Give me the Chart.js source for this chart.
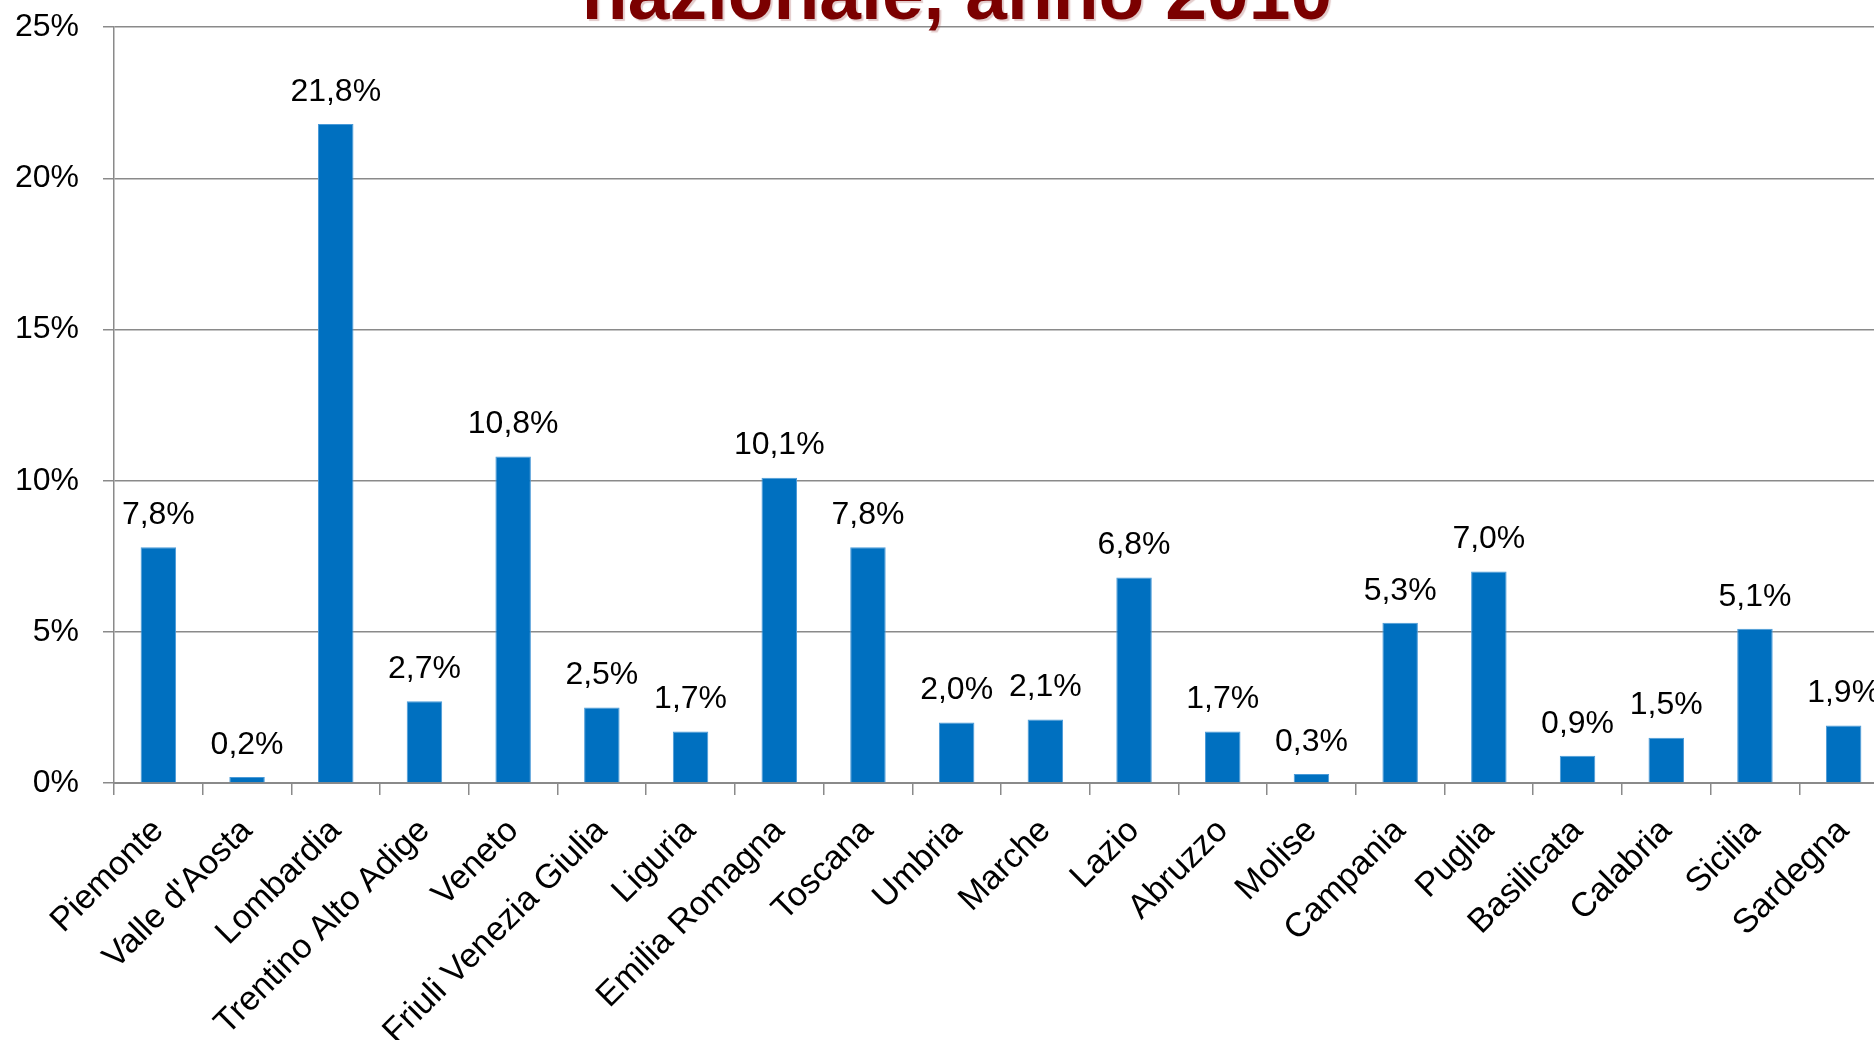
<!DOCTYPE html>
<html>
<head>
<meta charset="utf-8">
<script src="https://cdn.jsdelivr.net/npm/chart.js@4/dist/chart.umd.min.js"></script>
<style>
  html, body { margin: 0; padding: 0; background: #fff; overflow: hidden; width: 1874px; height: 1040px; }
  #wrap { position: relative; width: 1874px; height: 1040px; overflow: hidden; }
  #chart { position: absolute; left: 0; top: -16px; }
  .title {
    position: absolute; left: 0; width: 1914px; text-align: center;
    top: -50px; font: bold 75px "Liberation Sans", Arial, sans-serif;
    color: #7b0000; text-shadow: 2px 2px 1px rgba(160, 80, 80, 0.3);
    white-space: nowrap; z-index: 2;
  }
</style>
</head>
<body>
<div id="wrap">
  <div class="title">nazionale, anno 2010</div>
  <canvas id="chart" width="1900" height="1056"></canvas>
</div>
<script>
/* regional share of the national total, 2010 */

const REGIONS = [
  'Piemonte', "Valle d'Aosta", 'Lombardia', 'Trentino Alto Adige', 'Veneto',
  'Friuli Venezia Giulia', 'Liguria', 'Emilia Romagna', 'Toscana', 'Umbria',
  'Marche', 'Lazio', 'Abruzzo', 'Molise', 'Campania',
  'Puglia', 'Basilicata', 'Calabria', 'Sicilia', 'Sardegna',
];

const SHARES = [
  7.8, 0.2, 21.8, 2.7, 10.8,
  2.5, 1.7, 10.1, 7.8, 2.0,
  2.1, 6.8, 1.7, 0.3, 5.3,
  7.0, 0.9, 1.5, 5.1, 1.9,
];

const Y_TICKS = [0, 5, 10, 15, 20, 25];

const FONT = '"Liberation Sans", Arial, sans-serif';
const GREY = '#8a8a8a';

const pct = v => v.toFixed(1).replace('.', ',') + '%';

// value labels above each bar
const valueLabels = {
  id: 'valueLabels',
  afterDatasetsDraw(chart) {
    const { ctx } = chart;
    const meta = chart.getDatasetMeta(0);
    ctx.save();
    ctx.font = '32px ' + FONT;
    ctx.fillStyle = '#000';
    ctx.textAlign = 'center';
    ctx.textBaseline = 'bottom';
    meta.data.forEach((bar, i) => {
      ctx.fillText(pct(SHARES[i]), bar.x, bar.y - 16);
    });
    ctx.restore();
  },
};

new Chart(document.getElementById('chart'), {
  type: 'bar',
  data: {
    labels: REGIONS,
    datasets: [{
      data: SHARES,
      backgroundColor: '#0070c0',
      borderColor: '#4a9ad8',
      borderWidth: { top: 1, left: 1, right: 1, bottom: 0 },
      barPercentage: 0.4,
      categoryPercentage: 1,
    }],
  },
  options: {
    responsive: false,
    animation: false,
    layout: { padding: { top: 7, right: 12, left: 0, bottom: 0 } },
    plugins: { legend: { display: false }, tooltip: { enabled: false } },
    scales: {
      x: {
        grid: { offset: true, drawOnChartArea: false, drawTicks: true, tickLength: 12, color: GREY, lineWidth: 1.5 },
        border: { color: GREY, width: 2 },
        ticks: {
          color: '#000', font: { family: FONT, size: 34 },
          minRotation: 45, maxRotation: 45, autoSkip: false, padding: 16,
        },
        afterFit(scale) { scale.height = 257; },
      },
      y: {
        min: 0, max: 25,
        afterBuildTicks(scale) { scale.ticks = Y_TICKS.map(v => ({ value: v })); },
        grid: { color: GREY, lineWidth: 1.5, tickLength: 11 },
        border: { color: GREY, width: 1.5 },
        ticks: {
          color: '#000', font: { family: FONT, size: 32 }, padding: 24,
          callback: v => v + '%',
        },
        afterFit(scale) { scale.width = 114; },
      },
    },
  },
  plugins: [valueLabels],
});
</script>
</body>
</html>
